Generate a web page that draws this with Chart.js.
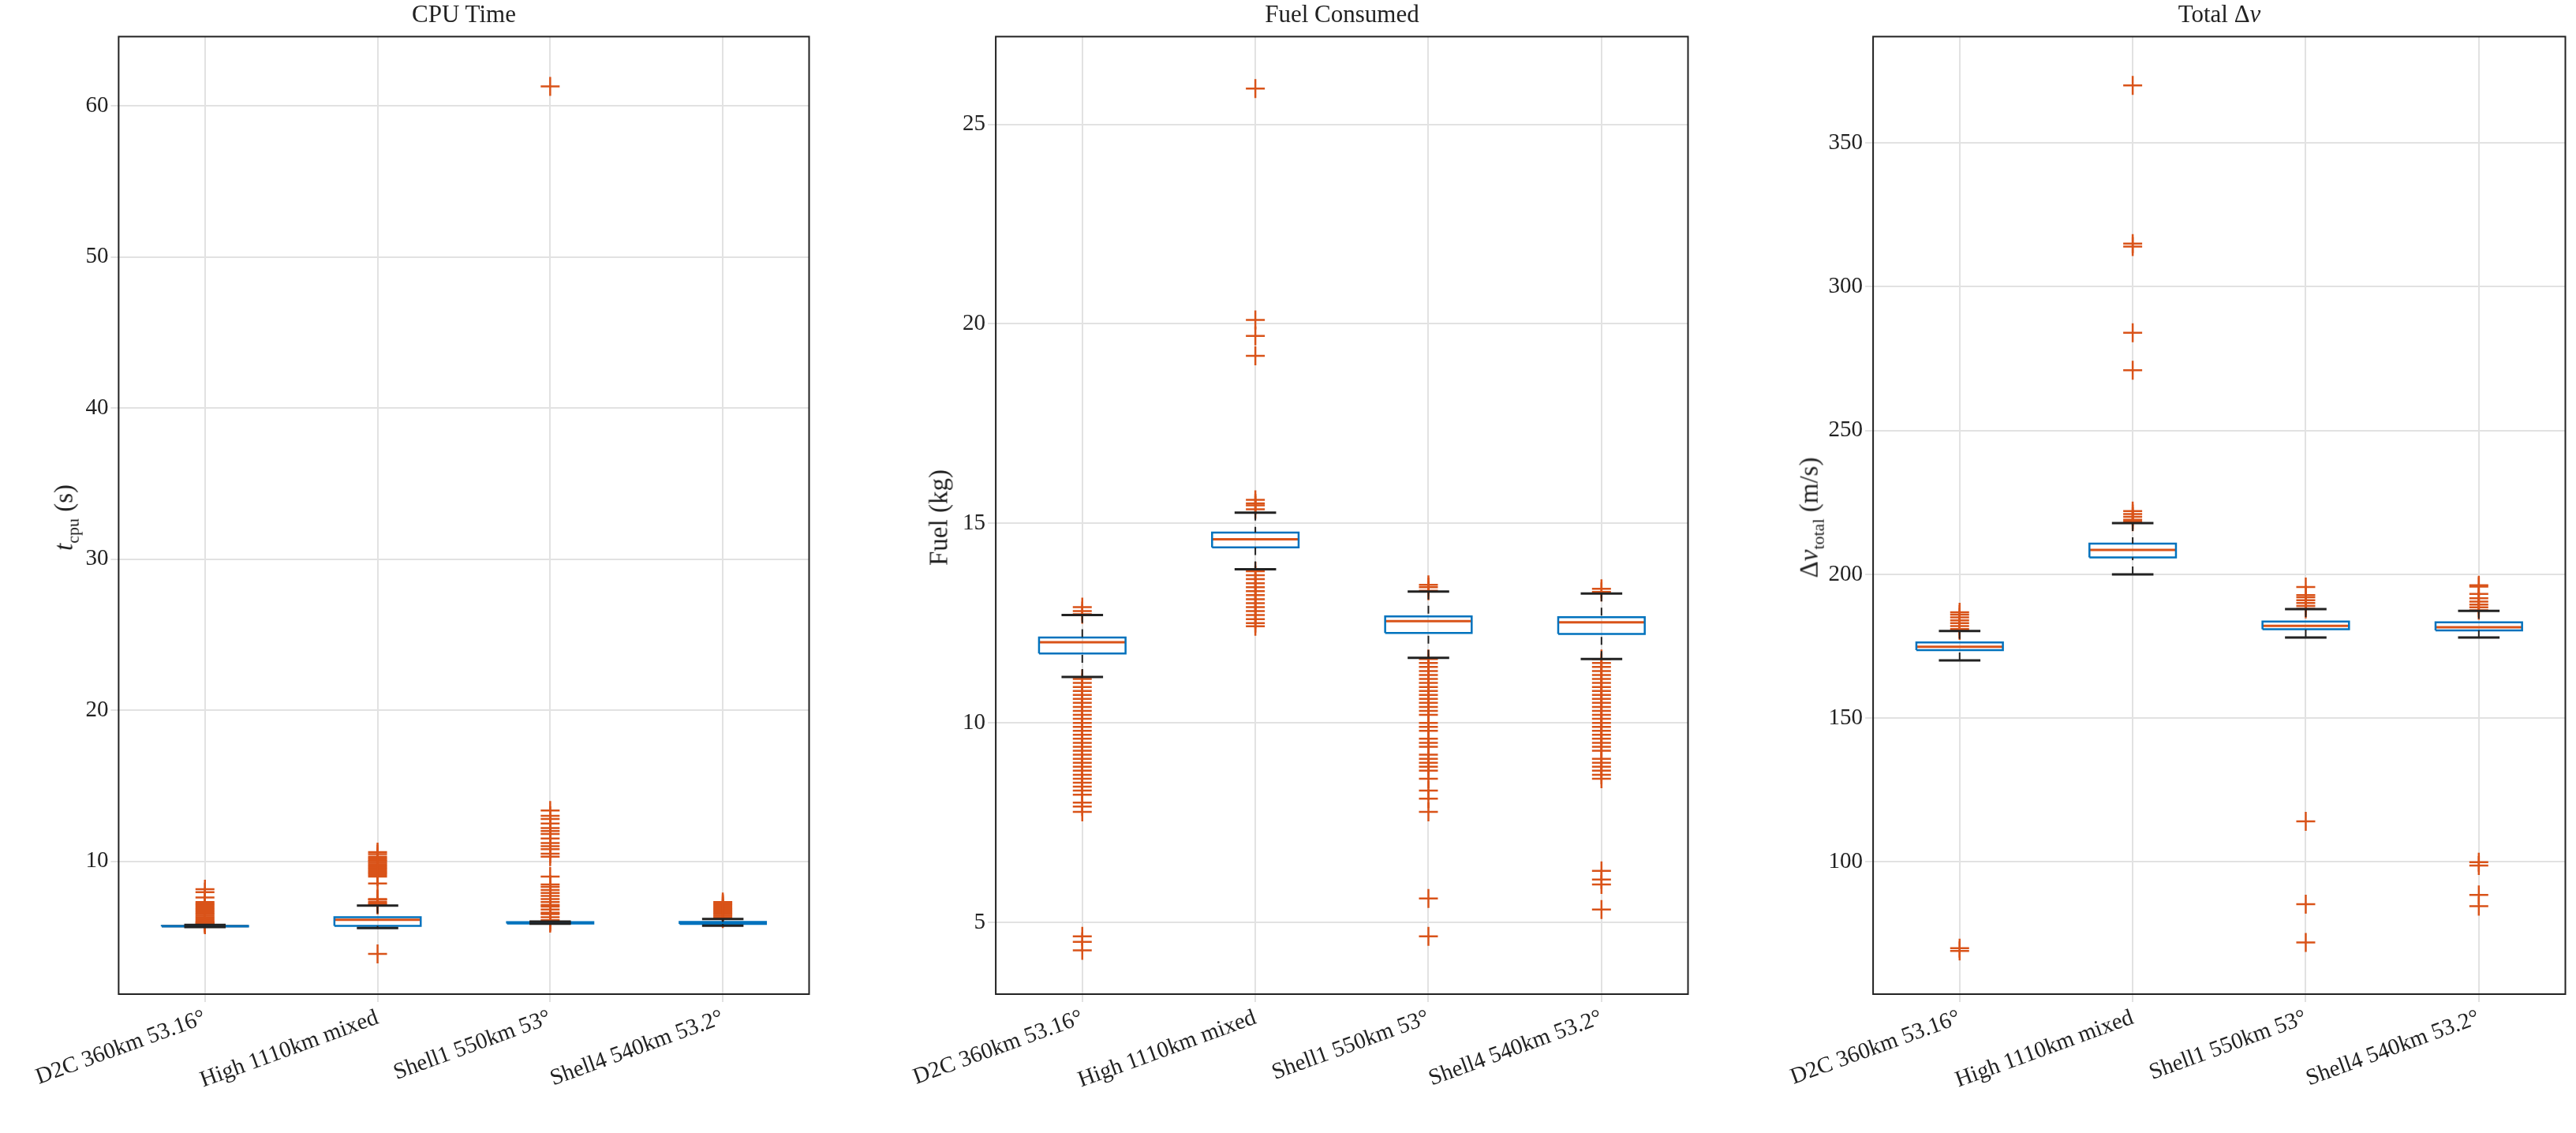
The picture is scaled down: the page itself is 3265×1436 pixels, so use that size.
<!DOCTYPE html>
<html>
<head>
<meta charset="utf-8">
<script src="https://cdn.jsdelivr.net/npm/chart.js@4.4.0/dist/chart.umd.min.js"></script>
<style>
  body { margin: 0; background: #fff; width: 3265px; height: 1436px; position: relative; overflow: hidden; font-family: "Liberation Serif", serif; color: #222; }
  .box { position: absolute; }
  .ttl { position: absolute; font-size: 31px; transform: translate(-50%, -50%); white-space: nowrap; }
  .ylab { position: absolute; font-size: 33px; transform: translate(-50%, -50%) rotate(-90deg); white-space: nowrap; }
  sub { font-size: 22px; }
</style>
</head>
<body>
<div class="box" id="b0"><canvas id="c0"></canvas></div>
<div class="box" id="b1"><canvas id="c1"></canvas></div>
<div class="box" id="b2"><canvas id="c2"></canvas></div>
<div class="ttl" style="left:588px;top:18px">CPU Time</div>
<div class="ttl" style="left:1701px;top:18px">Fuel Consumed</div>
<div class="ttl" style="left:2813px;top:18px">Total Δ<i>v</i></div>
<div class="ylab" style="left:84px;top:656px"><i>t</i><sub>cpu</sub> (s)</div>
<div class="ylab" style="left:1190px;top:656px">Fuel (kg)</div>
<div class="ylab" style="left:2296px;top:656px">Δ<i>v</i><sub>total</sub> (m/s)</div>
<script>
const categories = ['D2C 360km 53.16°', 'High 1110km mixed', 'Shell1 550km 53°', 'Shell4 540km 53.2°'];

// CPU time (s)
const cpuQ1 = [5.68, 5.72, 5.88, 5.85];
const cpuMed = [5.70, 6.12, 5.93, 5.92];
const cpuQ3 = [5.72, 6.30, 5.97, 5.98];
const cpuLo = [5.64, 5.58, 5.86, 5.73];
const cpuHi = [5.78, 7.06, 6.00, 6.17];
const cpuOut = [
  [5.8, 5.85, 5.9, 5.95, 6.0, 6.1, 6.2, 6.3, 6.4, 6.5, 6.6, 6.7, 6.8, 6.9, 7.0, 7.1, 7.2, 7.3, 7.6, 7.95, 8.15],
  [3.87, 7.1, 7.2, 7.3, 7.45, 7.5, 8.53, 8.99, 9.1, 9.2, 9.3, 9.4, 9.5, 9.6, 9.7, 9.8, 9.9, 10.0, 10.1, 10.2, 10.3, 10.47, 10.6],
  [5.9, 6.0, 6.1, 6.3, 6.5, 6.6, 6.8, 7.0, 7.1, 7.3, 7.5, 7.7, 7.9, 8.1, 8.3, 8.46, 8.98, 10.3, 10.5, 10.8, 11.0, 11.2, 11.5, 11.8, 12.0, 12.2, 12.5, 12.8, 13.0, 13.36, 61.3],
  [6.2, 6.3, 6.4, 6.5, 6.6, 6.7, 6.8, 6.9, 7.0, 7.1, 7.2, 7.3]
];

// Fuel (kg)
const fuelQ1 = [11.74, 14.40, 12.25, 12.23];
const fuelMed = [12.02, 14.60, 12.55, 12.52];
const fuelQ3 = [12.14, 14.77, 12.67, 12.65];
const fuelLo = [11.15, 13.85, 11.63, 11.60];
const fuelHi = [12.70, 15.27, 13.29, 13.24];
const fuelOut = [
  [12.72, 12.8, 12.9, 11.1, 11.0, 10.9, 10.8, 10.7, 10.6, 10.5, 10.4, 10.3, 10.2, 10.1, 10.0, 9.9, 9.8, 9.7, 9.6, 9.5, 9.4, 9.3, 9.2, 9.1, 9.0, 8.9, 8.8, 8.7, 8.6, 8.5, 8.4, 8.3, 8.2, 8.0, 7.9, 7.77, 4.65, 4.51, 4.3],
  [15.35, 15.45, 15.5, 15.59, 19.2, 19.7, 20.1, 25.9, 13.8, 13.7, 13.6, 13.5, 13.4, 13.3, 13.2, 13.1, 13.0, 12.9, 12.8, 12.7, 12.6, 12.5, 12.42],
  [13.31, 13.4, 13.46, 11.6, 11.5, 11.4, 11.3, 11.2, 11.1, 11.0, 10.9, 10.8, 10.7, 10.6, 10.5, 10.4, 10.3, 10.2, 10.0, 9.9, 9.8, 9.6, 9.5, 9.4, 9.2, 9.1, 9.0, 8.9, 8.8, 8.6, 8.3, 8.1, 7.77, 5.6, 4.65],
  [13.28, 13.36, 11.6, 11.5, 11.4, 11.3, 11.2, 11.1, 11.0, 10.9, 10.8, 10.7, 10.6, 10.5, 10.4, 10.3, 10.2, 10.1, 10.0, 9.9, 9.8, 9.7, 9.6, 9.5, 9.4, 9.3, 9.1, 9.0, 8.9, 8.8, 8.7, 8.6, 6.29, 6.07, 5.95, 5.32]
];

// Total delta-v (m/s)
const dvQ1 = [173.6, 205.9, 180.9, 180.5];
const dvMed = [174.8, 208.5, 182.1, 181.6];
const dvQ3 = [176.3, 210.7, 183.6, 183.3];
const dvLo = [170.1, 200.0, 178.0, 178.0];
const dvHi = [180.3, 217.8, 187.9, 187.3];
const dvOut = [
  [180.5, 181, 182, 183, 184, 185, 186, 186.8, 69, 70],
  [218.3, 219, 220, 221, 222, 271, 284, 314, 315, 370],
  [188, 189, 190, 191, 192, 192.8, 195.6, 114.1, 85.3, 72],
  [187.5, 188.5, 189.5, 190.5, 191.7, 193.2, 195.7, 196.2, 99.9, 98.7, 88.5, 84.6]
];

const BLUE = '#0072BD', ORANGE = '#D95319', BLACK = '#222';
const HALF = 0.25, CAP = 0.12;
const FONT = 'Liberation Serif';

const frame = {
  id: 'frame',
  afterDraw(chart) {
    const a = chart.chartArea, ctx = chart.ctx;
    ctx.save();
    ctx.strokeStyle = BLACK;
    ctx.lineWidth = 2;
    ctx.strokeRect(a.left, a.top, a.right - a.left, a.bottom - a.top);
    ctx.restore();
  }
};

function boxDatasets(q1, med, q3, lo, hi, out) {
  const sets = [];
  const line = (data, color, width, dash) => ({
    data, showLine: true, borderColor: color, borderWidth: width,
    borderDash: dash || [], pointRadius: 0, fill: false
  });
  for (let i = 0; i < q1.length; i++) {
    const x = i + 1;
    sets.push(line([{x: x, y: hi[i]}, {x: x, y: q3[i]}], BLACK, 2, [10, 8]));
    sets.push(line([{x: x, y: lo[i]}, {x: x, y: q1[i]}], BLACK, 2, [10, 8]));
    sets.push(line([{x: x - CAP, y: hi[i]}, {x: x + CAP, y: hi[i]}], BLACK, 3));
    sets.push(line([{x: x - CAP, y: lo[i]}, {x: x + CAP, y: lo[i]}], BLACK, 3));
    sets.push(line([
      {x: x - HALF, y: q1[i]}, {x: x + HALF, y: q1[i]}, {x: x + HALF, y: q3[i]},
      {x: x - HALF, y: q3[i]}, {x: x - HALF, y: q1[i]}
    ], BLUE, 2.5));
    sets.push(line([{x: x - HALF, y: med[i]}, {x: x + HALF, y: med[i]}], ORANGE, 3));
    sets.push({
      data: out[i].map(v => ({x: x, y: v})),
      showLine: false, pointStyle: 'cross', pointRadius: 12, pointBorderWidth: 2.5,
      borderColor: ORANGE, backgroundColor: ORANGE, pointHoverRadius: 12
    });
  }
  return sets;
}

function makePanel(idx, left, width, yMin, yMax, step, datasets) {
  const top = 36, bottom = 1260, PL = 110, PT = 10, PR = 12, XB = 176;
  const box = document.getElementById('b' + idx);
  box.style.left = (left - PL) + 'px';
  box.style.top = (top - PT) + 'px';
  box.style.width = (width + PL + PR) + 'px';
  box.style.height = (bottom - top + PT + XB) + 'px';
  new Chart(document.getElementById('c' + idx), {
    type: 'scatter',
    data: { datasets },
    options: {
      responsive: true, maintainAspectRatio: false, animation: false,
      layout: { padding: { top: PT, right: PR, left: 0, bottom: 0 } },
      plugins: { legend: { display: false }, tooltip: { enabled: false } },
      scales: {
        x: {
          type: 'linear', min: 0.5, max: 4.5,
          afterFit(s) { s.height = XB; },
          afterBuildTicks(s) { s.ticks = [1, 2, 3, 4].map(v => ({value: v})); },
          ticks: {
            autoSkip: false, minRotation: 20, maxRotation: 20, color: BLACK,
            font: { family: FONT, size: 29 },
            callback: v => categories[v - 1] || ''
          },
          grid: { color: '#e2e2e2', lineWidth: 2, tickLength: 10 },
          border: { display: false }
        },
        y: {
          min: yMin, max: yMax,
          afterFit(s) { s.width = PL; },
          ticks: { stepSize: step, includeBounds: false, color: BLACK, font: { family: FONT, size: 29 } },
          grid: { color: '#e2e2e2', lineWidth: 2, tickLength: 10 },
          border: { display: false }
        }
      }
    },
    plugins: [frame]
  });
}

makePanel(0, 140, 888, 1.2, 64.6, 10, boxDatasets(cpuQ1, cpuMed, cpuQ3, cpuLo, cpuHi, cpuOut));
makePanel(1, 1252, 890, 3.2, 27.2, 5, boxDatasets(fuelQ1, fuelMed, fuelQ3, fuelLo, fuelHi, fuelOut));
makePanel(2, 2364, 890, 54, 387, 50, boxDatasets(dvQ1, dvMed, dvQ3, dvLo, dvHi, dvOut));
</script>
</body>
</html>
